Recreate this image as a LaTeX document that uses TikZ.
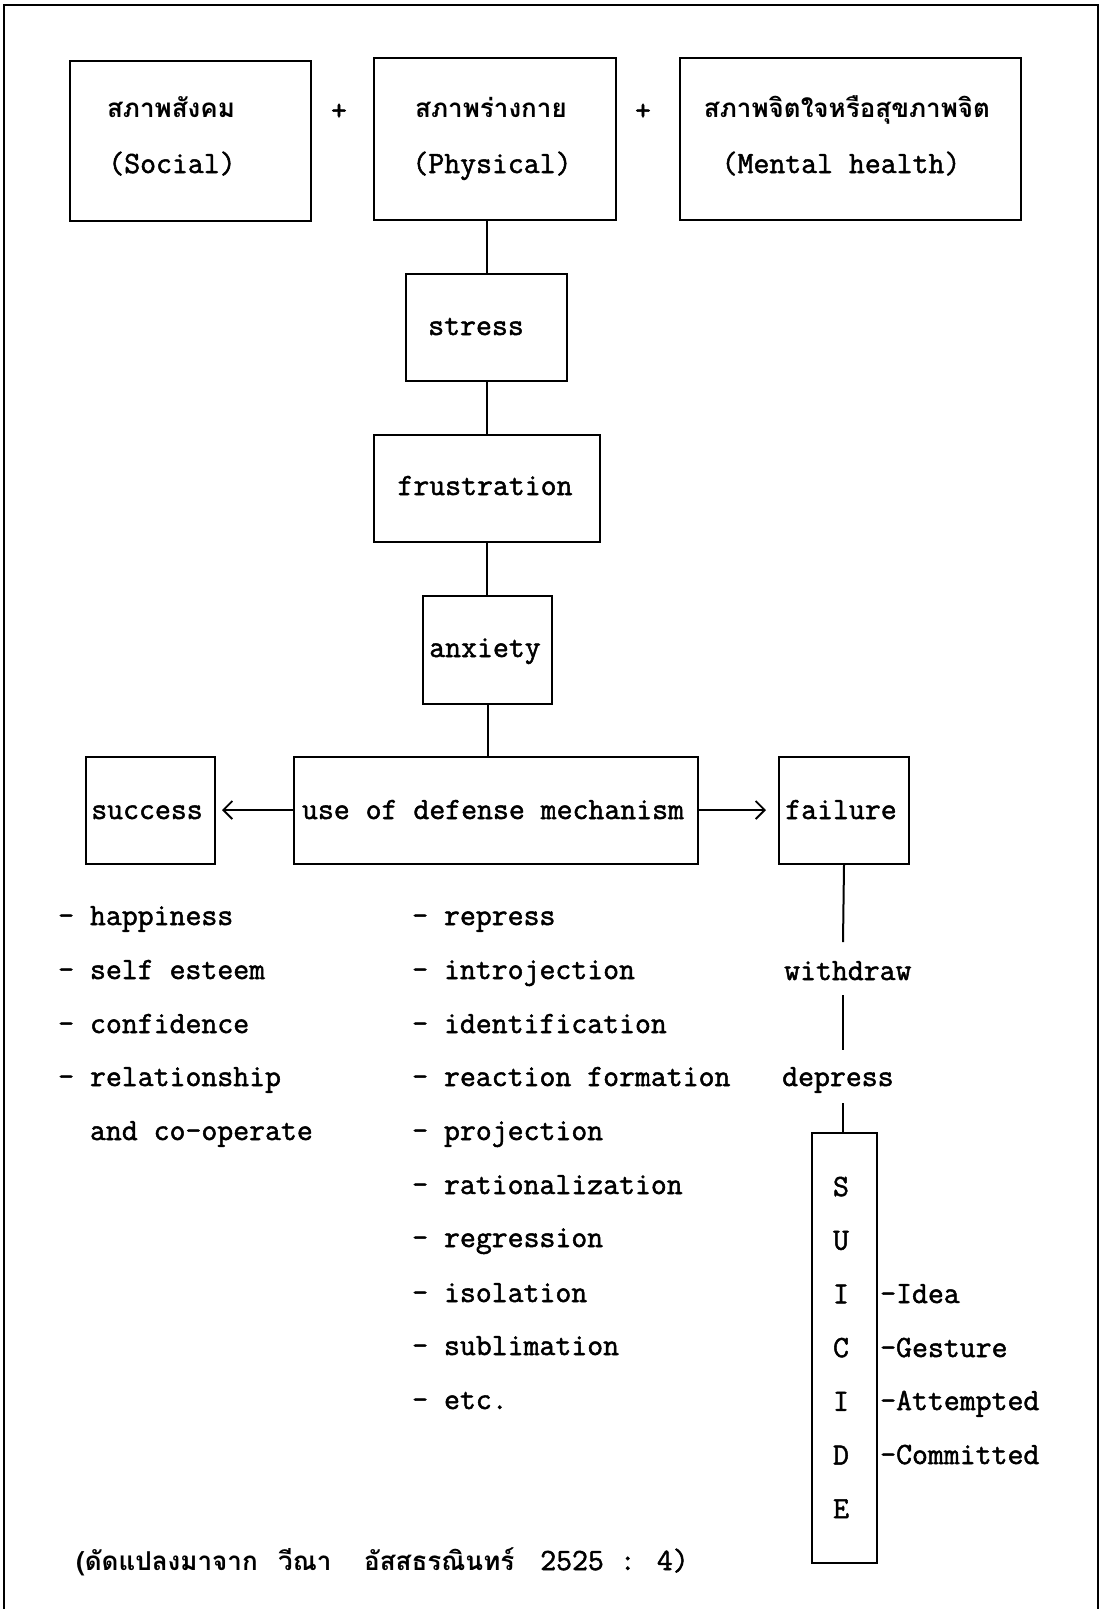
\documentclass[tikz,border=0pt]{standalone}
\usepackage{fontspec}
\newfontfamily\latf{Latin Modern Mono}[FakeBold=1.6]
\newfontfamily\thaif[Script=Thai]{Loma}
\usetikzlibrary{arrows.meta}
\begin{document}
\begin{tikzpicture}[x=1pt,y=-1pt,
  box/.style={draw,line width=2pt,inner sep=0pt,anchor=north west},
  lat/.style={font=\latf\fontsize{30.9}{36}\selectfont,inner sep=0pt},
  th/.style={font=\thaif\bfseries\fontsize{26}{32}\selectfont,inner sep=0pt},
  con/.style={line width=2pt},
  arr/.style={line width=2pt,-{Straight Barb[length=9pt,width=18pt,line width=1.8pt]}},
  lst/.style={lat,anchor=base west}
]
\useasboundingbox (0,0) rectangle (1100,1609);
% frame
\draw[line width=2.2pt] (4,1609) -- (4,5) -- (1098,5) -- (1098,1609);

% top boxes
\node[box,minimum width=241pt,minimum height=160pt] (social) at (69,60) {};
\node[box,minimum width=242pt,minimum height=162pt] (phys) at (373,57) {};
\node[box,minimum width=341pt,minimum height=162pt] (mental) at (679,57) {};
\node[th,anchor=base] (socT) at (171,117) {สภาพสังคม};
\node[lat,anchor=base] (socE) at (172,173) {(Social)};
\node[th,anchor=base] (phyT) at (491,117) {สภาพร่างกาย};
\node[lat,anchor=base] (phyE) at (492,173) {(Physical)};
\node[th,anchor=base] (menT) at (847,117) {สภาพจิตใจหรือสุขภาพจิต};
\node[lat,anchor=base] (menE) at (841,173) {(Mental health)};
\node[lat,anchor=base] (plus1) at (339,120) {+};
\node[lat,anchor=base] (plus2) at (643,120) {+};

% chain
\node[box,minimum width=161pt,minimum height=107pt] (stress) at (405,273) {};
\node[box,minimum width=226pt,minimum height=107pt] (frus) at (373,434) {};
\node[box,minimum width=129pt,minimum height=108pt] (anx) at (422,595) {};
\node[box,minimum width=404pt,minimum height=107pt] (def) at (293,756) {};
\node[box,minimum width=129pt,minimum height=107pt] (succ) at (85,756) {};
\node[box,minimum width=130pt,minimum height=107pt] (fail) at (778,756) {};
\node[lat,anchor=base] (stressT) at (476,335) {stress};
\node[lat,anchor=base] (frusT) at (485,495) {frustration};
\node[lat,anchor=base] (anxT) at (485,657) {anxiety};
\node[lat,anchor=base] (defT) at (493,819) {use of defense mechanism};
\node[lat,anchor=base] (succT) at (147,819) {success};
\node[lat,anchor=base] (failT) at (841,819) {failure};

\draw[con] (phys.south -| stress.north) -- (stress.north);
\draw[con] (stress.south) -- (frus.north -| stress.south);
\draw[con] (frus.south) -- (anx.north -| frus.south);
\draw[con] (anx.south) -- (def.north -| anx.south);
\coordinate (la) at (222,810);
\coordinate (ra) at (766,810);
\draw[arr] (def.west |- la) -- (la);
\draw[arr] (def.east |- ra) -- (ra);

% success list
\node[lst] (s1) at (58,925) {- happiness};
\node[lst] (s2) at (58,979) {- self esteem};
\node[lst] (s3) at (58,1033) {- confidence};
\node[lst] (s4) at (58,1086) {- relationship};
\node[lst] (s5) at (58,1140) {\phantom{- }and co-operate};

% defense list
\node[lst] (d1) at (412,925) {- repress};
\node[lst] (d2) at (412,979) {- introjection};
\node[lst] (d3) at (412,1033) {- identification};
\node[lst] (d4) at (412,1086) {- reaction formation};
\node[lst] (d5) at (412,1140) {- projection};
\node[lst] (d6) at (412,1194) {- rationalization};
\node[lst] (d7) at (412,1247) {- regression};
\node[lst] (d8) at (412,1302) {- isolation};
\node[lst] (d9) at (412,1355) {- sublimation};
\node[lst] (d10) at (412,1409) {- etc.};

% failure chain
\node[lst] (wd) at (784,980) {withdraw};
\node[lst] (dp) at (782,1086) {depress};
\node[box,minimum width=65pt,minimum height=430pt] (suic) at (811,1132) {};
\coordinate (f1) at (843,942);
\coordinate (f2) at (843,995);
\coordinate (f3) at (843,1050);
\coordinate (f4) at (843,1103);
\draw[con] (fail.south) -- (f1);
\draw[con] (f2) -- (f3);
\draw[con] (f4) -- (suic.north -| f4);

\foreach \l [count=\i from 0] in {S,U,I,C,I,D,E}{
  \node[lat,anchor=base] (L\i) at (841,1196+53.7*\i) {\l};
}
\node[lst] (idea) at (880,1303) {-Idea};
\node[lst] (gest) at (880,1357) {-Gesture};
\node[lst] (att) at (880,1410) {-Attempted};
\node[lst] (com) at (880,1464) {-Committed};

% citation
\node[th,anchor=base west] (c1) at (76,1570) {(ดัดแปลงมาจาก};
\node[th,anchor=base west] (c2) at (278,1570) {วีณา};
\node[th,anchor=base west] (c3) at (364,1570) {อัสสธรณินทร์};
\node[lst] (c4) at (540,1570) {2525 : 4)};
\end{tikzpicture}
\end{document}
